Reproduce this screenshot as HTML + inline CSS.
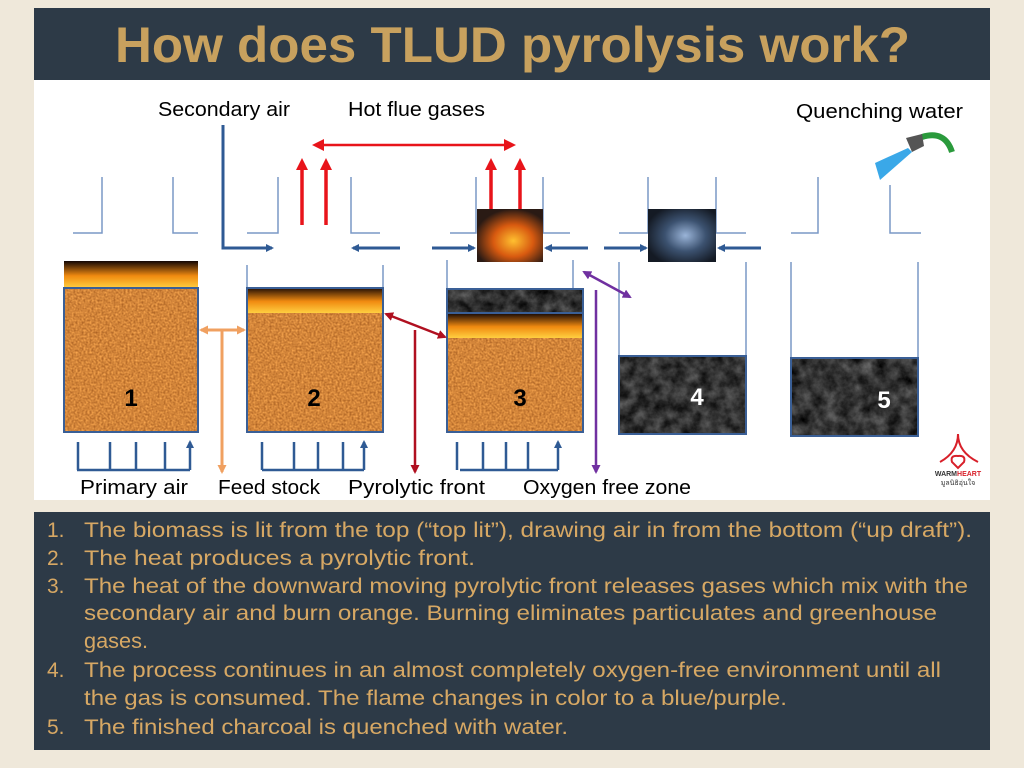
<!DOCTYPE html>
<html><head><meta charset="utf-8"><style>
html,body{margin:0;padding:0;background:#efe8da;}
svg{display:block}
</style></head><body>
<svg width="1024" height="768" viewBox="0 0 1024 768" xmlns="http://www.w3.org/2000/svg" font-family="Liberation Sans, sans-serif">
<defs>
<filter id="coal" x="0" y="0" width="100%" height="100%" color-interpolation-filters="sRGB">
<feTurbulence type="fractalNoise" baseFrequency="0.08" numOctaves="4" seed="7"/>
<feColorMatrix type="matrix" values="0.5 0 0 0 -0.05  0.5 0 0 0 -0.05  0.5 0 0 0 -0.05  0 0 0 0 1"/>
</filter>
<filter id="bio" x="0" y="0" width="100%" height="100%" color-interpolation-filters="sRGB">
<feTurbulence type="fractalNoise" baseFrequency="0.5" numOctaves="2" seed="3"/>
<feColorMatrix type="matrix" values="0.45 0 0 0 0.6  0.4 0 0 0 0.32  0.25 0 0 0 0.1  0 0 0 0 1"/>
</filter>
<linearGradient id="fl" x1="0" y1="1" x2="0" y2="0">
<stop offset="0" stop-color="#ffcf40"/><stop offset="0.45" stop-color="#f08a10"/><stop offset="1" stop-color="#120504"/>
</linearGradient>
<radialGradient id="fire3" cx="0.55" cy="0.6" r="0.6">
<stop offset="0" stop-color="#ffc030"/><stop offset="0.5" stop-color="#d85a10"/><stop offset="1" stop-color="#2a1a14"/>
</radialGradient>
<radialGradient id="fire4" cx="0.55" cy="0.5" r="0.6">
<stop offset="0" stop-color="#9ab4d8"/><stop offset="0.5" stop-color="#3c5270"/><stop offset="1" stop-color="#141a24"/>
</radialGradient>
<marker id="ab" markerWidth="8" markerHeight="8" refX="6" refY="4" orient="auto-start-reverse" markerUnits="userSpaceOnUse"><path d="M0,0 L8,4 L0,8 z" fill="#2f5a94"/></marker>
<marker id="ar" markerWidth="12" markerHeight="12" refX="8" refY="6" orient="auto-start-reverse" markerUnits="userSpaceOnUse"><path d="M0,0 L12,6 L0,12 z" fill="#e8141a"/></marker>
<marker id="ao" markerWidth="9" markerHeight="9" refX="7" refY="4.5" orient="auto-start-reverse" markerUnits="userSpaceOnUse"><path d="M0,0 L9,4.5 L0,9 z" fill="#f0a060"/></marker>
<marker id="ad" markerWidth="9" markerHeight="9" refX="7" refY="4.5" orient="auto-start-reverse" markerUnits="userSpaceOnUse"><path d="M0,0 L9,4.5 L0,9 z" fill="#b01020"/></marker>
<marker id="ap" markerWidth="9" markerHeight="9" refX="7" refY="4.5" orient="auto-start-reverse" markerUnits="userSpaceOnUse"><path d="M0,0 L9,4.5 L0,9 z" fill="#7030a0"/></marker>
</defs>

<rect x="34" y="8" width="956" height="72" fill="#2d3a47"/>
<text x="115" y="62" font-size="50" font-weight="bold" fill="#c8a15e" textLength="795" lengthAdjust="spacingAndGlyphs">How does TLUD pyrolysis work?</text>
<rect x="34" y="80" width="956" height="420" fill="#ffffff"/>
<rect x="34" y="512" width="956" height="238" fill="#2d3a47"/>

<g stroke="#7a98c6" stroke-width="1.5" fill="none">
<path d="M102,177 V233 H73 M173,177 V233 H198"/>
<path d="M278,177 V233 H247 M351,177 V233 H380"/>
<path d="M476,177 V233 H450 M543,177 V233 H570"/>
<path d="M648,177 V233 H619 M716,177 V233 H746"/>
<path d="M818,177 V233 H791 M890,185 V233 H921"/>
<path d="M247,265 V313 M383,265 V313"/>
<path d="M447,260 V289 M573,260 V289"/>
<path d="M619,262 V356 M746,262 V356"/>
<path d="M791,262 V358 M918,262 V358"/>
</g>

<rect x="64" y="261" width="134" height="27" fill="url(#fl)"/>
<rect x="64" y="288" width="134" height="144" filter="url(#bio)"/>
<rect x="64" y="288" width="134" height="144" fill="none" stroke="#3a5f96" stroke-width="2"/>
<text x="131" y="406" font-size="24" font-weight="bold" text-anchor="middle" fill="#000">1</text>

<rect x="247" y="287" width="136" height="26" fill="url(#fl)"/>
<rect x="247" y="313" width="136" height="119" filter="url(#bio)"/>
<rect x="247" y="288" width="136" height="144" fill="none" stroke="#3a5f96" stroke-width="2"/>
<text x="314" y="406" font-size="24" font-weight="bold" text-anchor="middle" fill="#000">2</text>

<rect x="447" y="289" width="136" height="24" filter="url(#coal)"/>
<rect x="447" y="313" width="136" height="25" fill="url(#fl)"/>
<rect x="447" y="338" width="136" height="94" filter="url(#bio)"/>
<rect x="447" y="289" width="136" height="143" fill="none" stroke="#3a5f96" stroke-width="2"/>
<line x1="447" y1="313" x2="583" y2="313" stroke="#3a5f96" stroke-width="2"/>
<text x="520" y="406" font-size="24" font-weight="bold" text-anchor="middle" fill="#000">3</text>
<rect x="477" y="209" width="66" height="53" fill="url(#fire3)"/>

<rect x="619" y="356" width="127" height="78" filter="url(#coal)"/>
<rect x="619" y="356" width="127" height="78" fill="none" stroke="#3a5f96" stroke-width="2"/>
<text x="697" y="405" font-size="24" font-weight="bold" text-anchor="middle" fill="#fff">4</text>
<rect x="648" y="209" width="68" height="53" fill="url(#fire4)"/>

<rect x="791" y="358" width="127" height="78" filter="url(#coal)"/>
<rect x="791" y="358" width="127" height="78" fill="none" stroke="#3a5f96" stroke-width="2"/>
<text x="884" y="408" font-size="24" font-weight="bold" text-anchor="middle" fill="#fff">5</text>

<g stroke="#2f5a94" stroke-width="3" fill="none" marker-end="url(#ab)">
<path d="M223,125 V248 H272"/>
<path d="M400,248 H353"/>
<path d="M432,248 H474"/>
<path d="M588,248 H546"/>
<path d="M604,248 H646"/>
<path d="M761,248 H719"/>
</g>
<g stroke="#2f5a94" stroke-width="2.5" fill="none">
<path d="M77,470 H190 M262,470 H364 M460,470 H558"/>
<g marker-end="url(#ab)">
<path d="M78,470 V442 M110,470 V442 M136,470 V442 M165,470 V442 M190,470 V442"/>
<path d="M262,470 V442 M294,470 V442 M318,470 V442 M343,470 V442 M364,470 V442"/>
<path d="M457,470 V442 M483,470 V442 M506,470 V442 M528,470 V442 M558,470 V442"/>
</g>
</g>
<g stroke="#e8141a" stroke-width="3.5" fill="none" marker-end="url(#ar)">
<path d="M302,225 V162"/><path d="M326,225 V162"/>
<path d="M491,209 V162"/><path d="M520,209 V162"/>
<path d="M316,145 H512" marker-start="url(#ar)" stroke-width="2.5"/>
</g>
<g stroke="#f0a060" stroke-width="3" fill="none">
<path d="M201,330 H244" marker-start="url(#ao)" marker-end="url(#ao)"/>
<path d="M222,330 V472" marker-end="url(#ao)"/>
</g>
<g stroke="#b01020" stroke-width="2.5" fill="none">
<path d="M415,330 V472" marker-end="url(#ad)"/>
<path d="M386,314 L445,337" marker-start="url(#ad)" marker-end="url(#ad)"/>
</g>
<g stroke="#7030a0" stroke-width="2.5" fill="none">
<path d="M596,290 V472" marker-end="url(#ap)"/>
<path d="M584,272 L630,297" marker-start="url(#ap)" marker-end="url(#ap)"/>
</g>

<path d="M922,137 Q945,130 952,152" stroke="#2a9a3c" stroke-width="6" fill="none"/>
<path d="M906,138 L922,134 L924,146 L912,152 Z" fill="#555"/>
<path d="M908,148 L875,163 L880,180 L912,152 Z" fill="#3aa8e8"/>

<g fill="none" stroke="#d8202a" stroke-width="2">
<path d="M940,462 Q958,452 958,434 Q958,452 978,462"/>
<path d="M952,462 Q950,455 958,456 Q966,455 964,462 L958,468 Z"/>
</g>
<text x="958" y="476" font-size="7" font-weight="bold" text-anchor="middle" fill="#333">WARM<tspan fill="#d8202a">HEART</tspan></text>
<text x="958" y="485" font-size="7" text-anchor="middle" fill="#333">มูลนิธิอุ่นใจ</text>

<g font-size="20" fill="#000">
<text x="158" y="116" textLength="132" lengthAdjust="spacingAndGlyphs">Secondary air</text>
<text x="348" y="116" textLength="137" lengthAdjust="spacingAndGlyphs">Hot flue gases</text>
<text x="796" y="118" textLength="167" lengthAdjust="spacingAndGlyphs">Quenching water</text>
<text x="80" y="494" textLength="108" lengthAdjust="spacingAndGlyphs">Primary air</text>
<text x="218" y="494" textLength="102" lengthAdjust="spacingAndGlyphs">Feed stock</text>
<text x="348" y="494" textLength="137" lengthAdjust="spacingAndGlyphs">Pyrolytic front</text>
<text x="523" y="494" textLength="168" lengthAdjust="spacingAndGlyphs">Oxygen free zone</text>
</g>

<g font-size="21" fill="#d7a864">
<text x="47" y="537">1.</text><text x="84" y="537" textLength="888" lengthAdjust="spacingAndGlyphs">The biomass is lit from the top (“top lit”), drawing air in from the bottom (“up draft”).</text>
<text x="47" y="565">2.</text><text x="84" y="565" textLength="391" lengthAdjust="spacingAndGlyphs">The heat produces a pyrolytic front.</text>
<text x="47" y="593">3.</text><text x="84" y="593" textLength="884" lengthAdjust="spacingAndGlyphs">The heat of the downward moving pyrolytic front releases gases which mix with the</text>
<text x="84" y="620" textLength="853" lengthAdjust="spacingAndGlyphs">secondary air and burn orange. Burning eliminates particulates and greenhouse</text>
<text x="84" y="648" textLength="64" lengthAdjust="spacingAndGlyphs">gases.</text>
<text x="47" y="677">4.</text><text x="84" y="677" textLength="857" lengthAdjust="spacingAndGlyphs">The process continues in an almost completely oxygen-free environment until all</text>
<text x="84" y="705" textLength="703" lengthAdjust="spacingAndGlyphs">the gas is consumed. The flame changes in color to a blue/purple.</text>
<text x="47" y="734">5.</text><text x="84" y="734" textLength="484" lengthAdjust="spacingAndGlyphs">The finished charcoal is quenched with water.</text>
</g>
</svg>
</body></html>
